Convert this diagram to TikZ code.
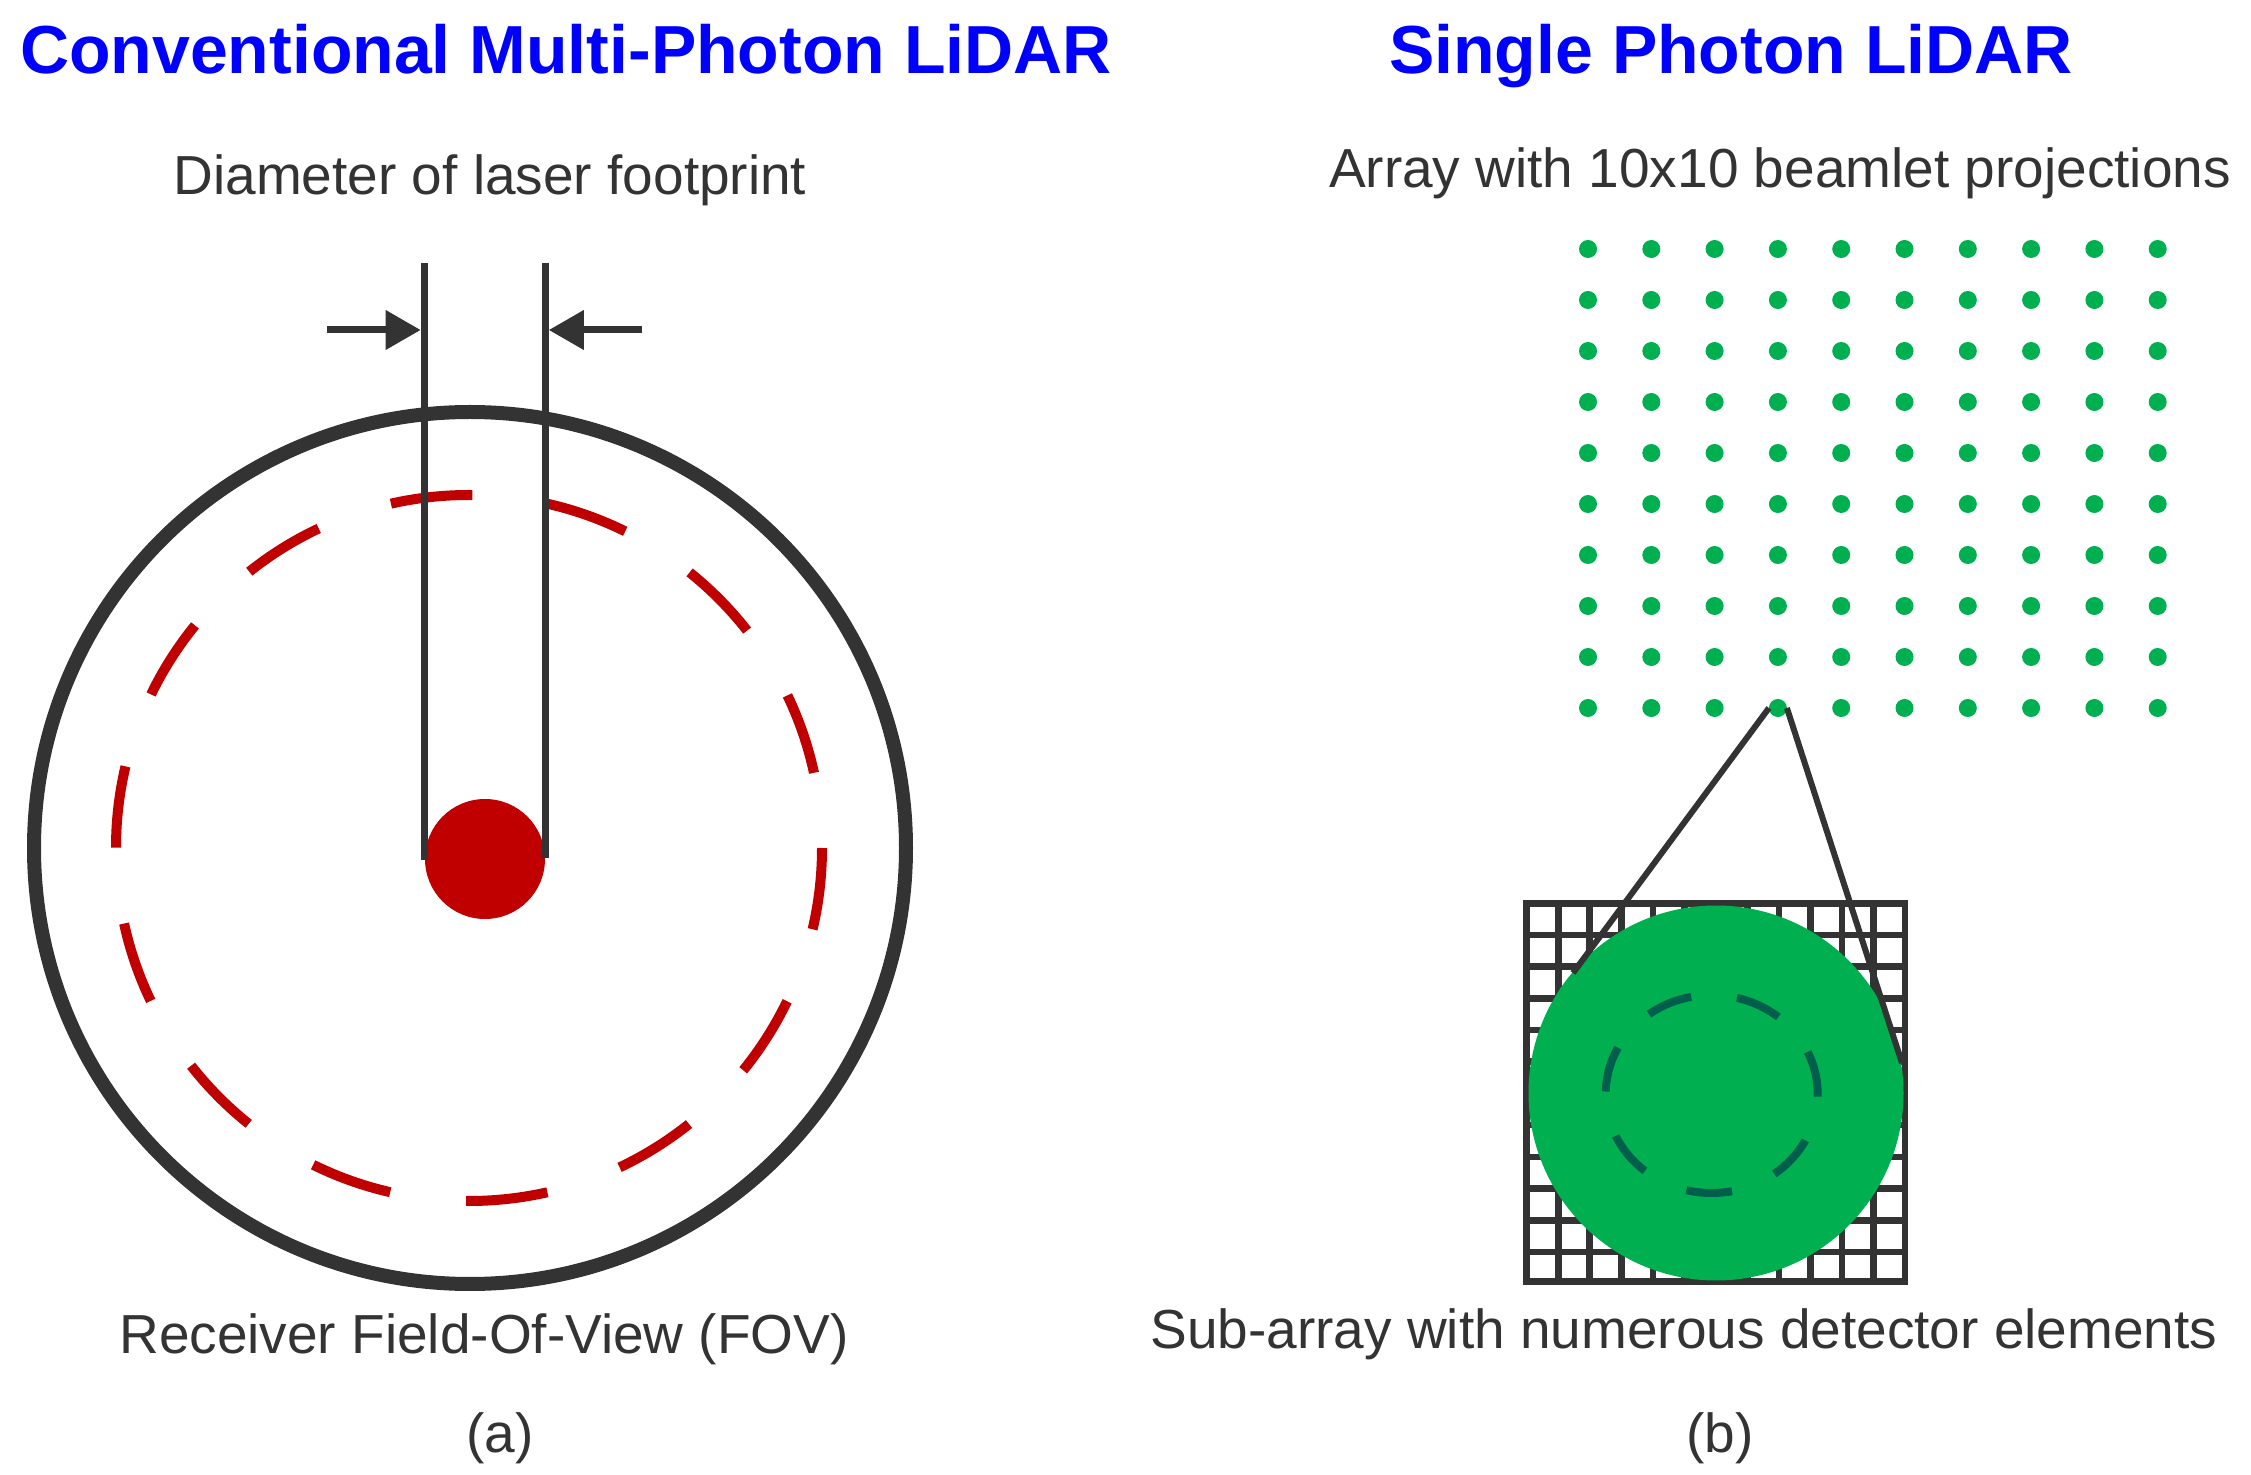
\documentclass[tikz,border=0pt]{standalone}
\usepackage{fontspec}
\setmainfont{Liberation Sans}
\usetikzlibrary{arrows.meta}
\definecolor{txtgray}{HTML}{333333}
\definecolor{ttlblue}{HTML}{0000FF}
\definecolor{fovred}{HTML}{C00000}
\definecolor{beamgreen}{HTML}{00B050}
\definecolor{innerteal}{HTML}{005E4C}
\begin{document}
\begin{tikzpicture}[x=0.5pt,y=-0.5pt,
  ttl/.style={font=\fontsize{34}{40}\selectfont\bfseries, text=ttlblue, inner sep=0, anchor=base},
  lbl/.style={font=\fontsize{27.5}{33}\selectfont, text=txtgray, inner sep=0, anchor=base},
  darkline/.style={draw=txtgray, line width=3.5pt},
  gridline/.style={draw=txtgray, line width=3.3pt},
  beamdot/.style={circle, fill=beamgreen, minimum size=9pt, inner sep=0, outer sep=0},
  dimarrow/.style={draw=txtgray, line width=3.5pt, -{Triangle[length=17.5pt,width=19pt]}}]
\useasboundingbox (0,0) rectangle (2251,1475);
\fill[white] (0,0) rectangle (2251,1475);

% ---------- titles ----------
\node[ttl] (t1) at (566,74) {Conventional Multi-Photon LiDAR};
\node[ttl] (t2) at (1731,74) {Single Photon LiDAR};

% ---------- left panel ----------
\node[lbl] (diam) at (490,195) {Diameter of laser footprint};
\node[circle, draw=txtgray, line width=7pt, minimum size=436pt, inner sep=0, outer sep=0] (fov) at (470,848) {};
\draw[fovred, line width=5pt, dash pattern=on 41pt off 38.25pt] (469,848) circle (353);
\node[circle, fill=fovred, minimum size=60pt, inner sep=0, outer sep=0] (spot) at (485,859) {};

\coordinate (l1top) at (424.3,263);
\coordinate (l1bot) at (424.3,860);
\coordinate (l2top) at (545.3,263);
\coordinate (l2bot) at (545.3,858);
\draw[darkline] (l1top) -- (l1bot);
\draw[darkline] (l2top) -- (l2bot);

\coordinate (alstart) at (327,330);
\coordinate (altip) at (420.7,330);
\coordinate (arstart) at (642,330);
\coordinate (artip) at (548.8,330);
\draw[dimarrow] (alstart) -- (altip);
\draw[dimarrow] (arstart) -- (artip);

\node[lbl] (fovlbl) at (484,1353) {Receiver Field-Of-View (FOV)};
\node[lbl] (capa) at (500,1452) {(a)};

% ---------- right panel ----------
\node[lbl] (arrlbl) at (1780,188) {Array with 10x10 beamlet projections};
\foreach \i in {0,...,9}{
  \foreach \j in {0,...,9}{
    \node[beamdot] (d-\i-\j) at ({1588+63.3*\i},{249+51*\j}) {};
  }
}

\draw[gridline] (1526.7,903.3) rectangle (1905,1281.7);
\foreach \k in {1,...,11}{
  \draw[gridline] ({1526.7+\k*31.525},903.3) -- ({1526.7+\k*31.525},1281.7);
  \draw[gridline] (1526.7,{903.3+\k*31.7}) -- (1905,{903.3+\k*31.7});
}
\node[circle, fill=beamgreen, minimum size=187.5pt, inner sep=0, outer sep=0] (beamspot) at (1716,1093) {};
\draw[innerteal, line width=4pt, dash pattern=on 23pt off 23pt, dash phase=21.7pt] (1711.7,1094) ellipse [x radius=106, y radius=99];

\coordinate (tl) at (1573,973);
\coordinate (tr) at (1902,1063);
\draw[txtgray, line width=3pt] (d-3-9.west) -- (tl);
\draw[txtgray, line width=3pt] (d-3-9.east) -- (tr);

\node[lbl] (sublbl) at (1684,1348) {Sub-array with numerous detector elements};
\node[lbl] (capb) at (1720,1452) {(b)};
\end{tikzpicture}
\end{document}
